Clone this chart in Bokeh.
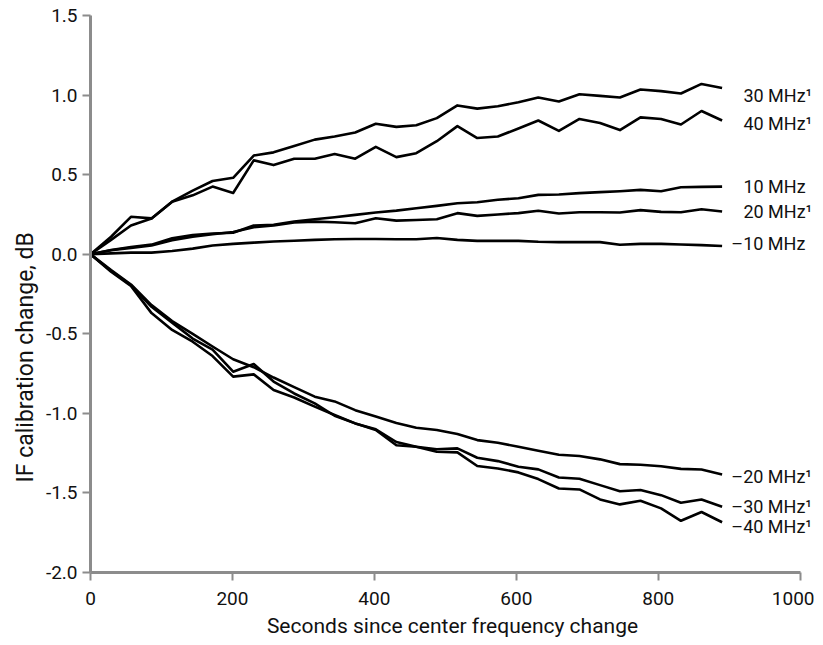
from bokeh.plotting import figure
from bokeh.models import Range1d, FixedTicker, PrintfTickFormatter, ColumnDataSource, Title
from bokeh.core.properties import value
from bokeh.embed import file_html
from bokeh.resources import INLINE

# ---- data ----
seconds = [0, 29, 57, 86, 115, 144, 172, 201, 230, 258, 287, 316, 344, 373, 402, 431,
           459, 488, 517, 545, 574, 603, 631, 660, 689, 718, 746, 775, 804, 832, 861, 890]

mhz_30 = [0, 0.11, 0.235, 0.225, 0.33, 0.40, 0.46, 0.48, 0.62, 0.64, 0.68, 0.72, 0.74, 0.765, 0.82, 0.80,
          0.81, 0.855, 0.935, 0.915, 0.93, 0.955, 0.985, 0.96, 1.005, 0.995, 0.985, 1.035, 1.025, 1.01, 1.07, 1.045]
mhz_40 = [0, 0.09, 0.18, 0.225, 0.33, 0.37, 0.425, 0.385, 0.59, 0.56, 0.60, 0.60, 0.63, 0.60, 0.675, 0.61,
          0.635, 0.71, 0.805, 0.73, 0.74, 0.79, 0.84, 0.775, 0.85, 0.825, 0.78, 0.86, 0.85, 0.815, 0.90, 0.84]
mhz_10 = [0, 0.027, 0.045, 0.06, 0.10, 0.12, 0.13, 0.135, 0.18, 0.185, 0.205, 0.22, 0.232, 0.247, 0.262, 0.274,
          0.289, 0.304, 0.32, 0.327, 0.342, 0.352, 0.373, 0.375, 0.384, 0.39, 0.396, 0.404, 0.396, 0.421, 0.423, 0.425]
mhz_20 = [0, 0.025, 0.04, 0.055, 0.088, 0.11, 0.125, 0.14, 0.17, 0.18, 0.199, 0.205, 0.201, 0.195, 0.226, 0.211,
          0.215, 0.22, 0.258, 0.241, 0.25, 0.258, 0.273, 0.256, 0.264, 0.264, 0.262, 0.277, 0.266, 0.264, 0.283, 0.268]
mhz_m10 = [0, 0.005, 0.01, 0.01, 0.02, 0.035, 0.055, 0.065, 0.073, 0.08, 0.085, 0.09, 0.094, 0.096, 0.096, 0.094,
           0.094, 0.102, 0.09, 0.084, 0.084, 0.084, 0.078, 0.076, 0.076, 0.076, 0.059, 0.065, 0.065, 0.061, 0.057, 0.052]
mhz_m20 = [0, -0.10, -0.19, -0.32, -0.42, -0.50, -0.58, -0.66, -0.71, -0.775, -0.835, -0.895, -0.925, -0.98, -1.02, -1.06,
           -1.09, -1.105, -1.13, -1.168, -1.185, -1.21, -1.235, -1.26, -1.268, -1.289, -1.319, -1.323, -1.332, -1.349, -1.353, -1.384]
mhz_m30 = [0, -0.105, -0.195, -0.33, -0.43, -0.53, -0.60, -0.738, -0.69, -0.80, -0.875, -0.937, -1.015, -1.063, -1.10, -1.18,
           -1.21, -1.226, -1.22, -1.279, -1.30, -1.335, -1.352, -1.403, -1.411, -1.451, -1.489, -1.482, -1.514, -1.562, -1.541, -1.587]
mhz_m40 = [0, -0.11, -0.20, -0.37, -0.476, -0.55, -0.64, -0.769, -0.755, -0.853, -0.90, -0.958, -1.01, -1.063, -1.105, -1.20,
           -1.21, -1.241, -1.245, -1.331, -1.346, -1.371, -1.413, -1.472, -1.478, -1.541, -1.572, -1.549, -1.597, -1.675, -1.62, -1.684]

series = [mhz_30, mhz_40, mhz_10, mhz_20, mhz_m10, mhz_m20, mhz_m30, mhz_m40]
series_labels = ["30 MHz\u00b9", "40 MHz\u00b9", "10 MHz", "20 MHz\u00b9", "\u201310 MHz",
                 "\u201320 MHz\u00b9", "\u201330 MHz\u00b9", "\u201340 MHz\u00b9"]

x_ticks = [0, 200, 400, 600, 800, 1000]
y_ticks = [-2.0, -1.5, -1.0, -0.5, 0.0, 0.5, 1.0, 1.5]

# ---- styles ----
FONT = "Roboto"
AXIS_GREY = "#8c8c8c"
TXT = "#111111"
label_dx = [30, 30, 30, 30, 13, 13, 13, 13]          # label offset from line end (s)
label_dy = [-0.045, -0.02, 0.0, 0.0, 0.015, -0.01, 0.0, -0.025]  # label nudge (dB)

p = figure(width=814, height=645, output_backend="svg", toolbar_location=None,
           x_range=Range1d(0, 1020.2), y_range=Range1d(-2.0, 1.5),
           min_border_left=90, min_border_right=0, min_border_top=15, min_border_bottom=73)
p.outline_line_color = None
p.xgrid.grid_line_color = None
p.ygrid.grid_line_color = None
p.background_fill_color = "white"
p.border_fill_color = "white"

for ys in series:
    p.line(seconds, ys, line_color="black", line_width=2.6, line_join="round")

lx = [seconds[-1] + d for d in label_dx]
ly = [s[-1] + d for s, d in zip(series, label_dy)]
src = ColumnDataSource(dict(x=lx, y=ly, t=series_labels))
p.text(x="x", y="y", text="t", source=src, text_font=value(FONT), text_font_size="18px",
       text_color=TXT, text_align="left", text_baseline="middle")

for ax in (p.xaxis[0], p.yaxis[0]):
    ax.axis_line_color = AXIS_GREY
    ax.axis_line_width = 3
    ax.major_tick_line_color = AXIS_GREY
    ax.major_tick_line_width = 2
    ax.major_tick_in = 0
    ax.major_tick_out = 8
    ax.minor_tick_line_color = None
    ax.major_label_text_font = FONT
    ax.major_label_text_font_size = "19px"
    ax.major_label_text_color = TXT
    ax.axis_label_text_font = FONT
    ax.axis_label_text_font_style = "normal"
    ax.axis_label_text_color = TXT

p.xaxis.bounds = (0, 1000)
p.yaxis.bounds = (-2.0, 1.5)
p.xaxis.ticker = FixedTicker(ticks=x_ticks)
p.yaxis.ticker = FixedTicker(ticks=y_ticks)
p.yaxis.formatter = PrintfTickFormatter(format="%.1f")
p.xaxis.axis_label = "Seconds since center frequency change"
p.xaxis.axis_label_text_font_size = "21px"
p.xaxis.major_label_standoff = 11
p.yaxis.major_label_standoff = 5
p.xaxis.axis_label_standoff = 6

ytitle = Title(text="IF calibration change, dB", align="left", offset=90,
               text_font=FONT, text_font_size="23px", text_font_style="normal",
               text_color=TXT, standoff=8)
p.add_layout(ytitle, "left")

open("out.html", "w").write(file_html(p, INLINE))
